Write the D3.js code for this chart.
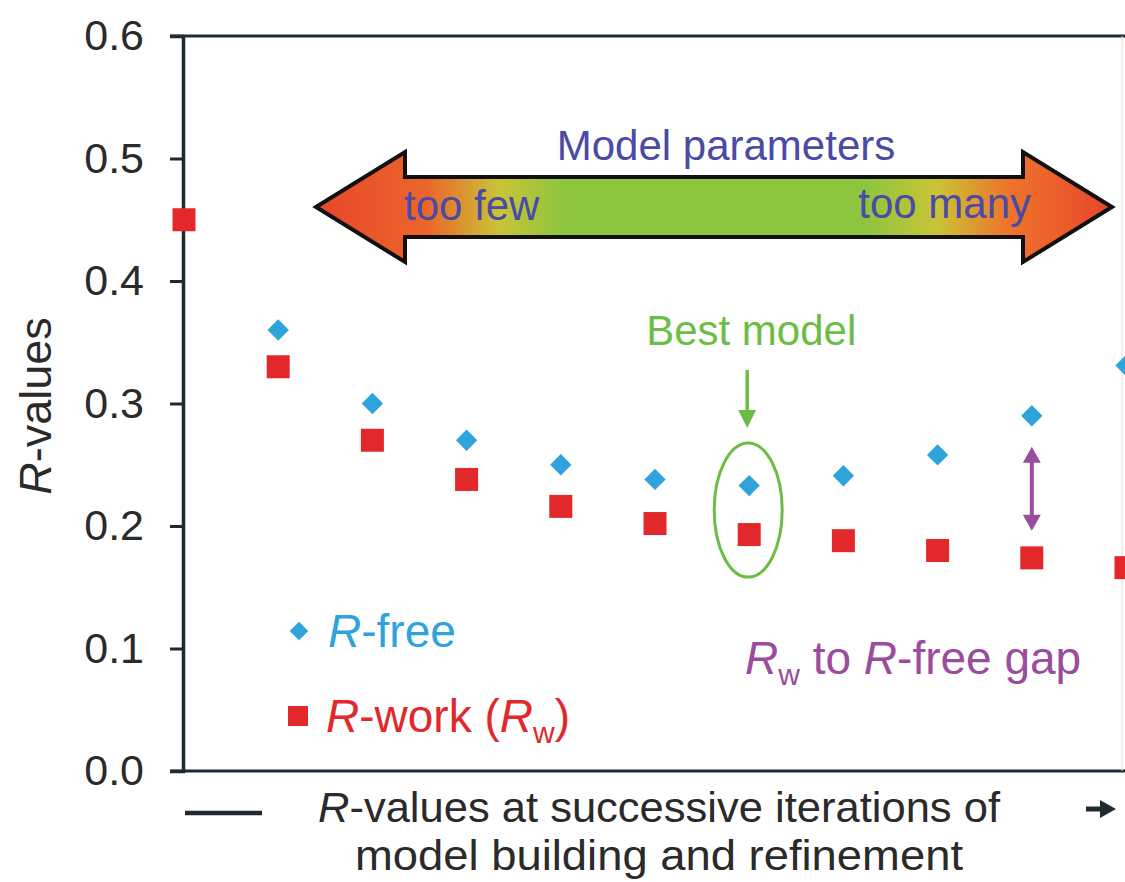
<html>
  <head>
    <meta charset="UTF-8" />
    <script src="https://cdnjs.cloudflare.com/ajax/libs/d3/7.8.5/d3.min.js"></script>
    <style>
      body { margin: 0; background: #fff; }
      text { font-family: "Liberation Sans", Arial, sans-serif; }
    </style>
  </head>
  <body>
    <svg id="chart" width="1125" height="882"></svg>
    <script>
      // iteration index along the x axis
      const iterations = [0, 1, 2, 3, 4, 5, 6, 7, 8, 9, 10];
      const rFree = [null, 0.36, 0.30, 0.27, 0.25, 0.238, 0.233, 0.241, 0.258, 0.29, 0.331];
      const rWork = [0.45, 0.33, 0.27, 0.238, 0.216, 0.202, 0.193, 0.188, 0.18, 0.174, 0.166];
      const yTicks = [0, 0.1, 0.2, 0.3, 0.4, 0.5, 0.6];
      const bestIndex = 6;
      const gapIndex = 9;

      const svg = d3.select("#chart");
      const x = d3.scaleLinear().domain([0, 10]).range([184, 1126]);
      const y = d3.scaleLinear().domain([0, 0.6]).range([771, 36]);

      const blue = "#2fa4dc", red = "#e2282b", green = "#6cbd45",
        purple = "#9a4c9f", ink = "#1f2a30", navy = "#4b4aa6", grey = "#2a2a2a";

      // gradient for the big arrow
      const grad = svg.append("defs").append("linearGradient")
        .attr("id", "arrowGrad")
        .attr("gradientUnits", "userSpaceOnUse")
        .attr("x1", 316).attr("x2", 1112).attr("y1", 0).attr("y2", 0);
      [[0, "#e8452b"], [0.14, "#ec662b"], [0.23, "#c9c436"], [0.31, "#8ec53f"],
       [0.69, "#8ec53f"], [0.78, "#c9c436"], [0.87, "#ee742b"], [1, "#e8452b"]]
        .forEach(s => grad.append("stop").attr("offset", s[0]).attr("stop-color", s[1]));

      // axis frame
      svg.append("line").attr("x1", 170).attr("x2", 1125).attr("y1", y(0.6)).attr("y2", y(0.6))
        .attr("stroke", ink).attr("stroke-width", 3);
      svg.append("line").attr("x1", 170).attr("x2", 1125).attr("y1", y(0)).attr("y2", y(0))
        .attr("stroke", ink).attr("stroke-width", 3);
      svg.append("line").attr("x1", 1122).attr("x2", 1122).attr("y1", y(0.6)).attr("y2", y(0))
        .attr("stroke", "#f1dcd6").attr("stroke-width", 1);

      const yAxis = svg.append("g")
        .attr("transform", "translate(183,0)")
        .call(d3.axisLeft(y).tickValues(yTicks).tickFormat(d3.format(".1f")).tickSize(13).tickPadding(26));
      yAxis.select(".domain").attr("stroke", ink).attr("stroke-width", 3.5);
      yAxis.selectAll(".tick line").attr("stroke", ink).attr("stroke-width", 3);
      yAxis.selectAll(".tick text")
        .attr("fill", grey)
        .style("font-family", "'Liberation Sans', Arial, sans-serif")
        .style("font-size", "43px");

      svg.append("text")
        .attr("transform", "translate(51,406) rotate(-90)")
        .attr("text-anchor", "middle")
        .attr("fill", grey)
        .style("font-size", "45px")
        .html('<tspan font-style="italic">R</tspan>-values');

      // x axis caption
      const cap = svg.append("g").attr("fill", grey).style("font-size", "42px");
      cap.append("text").attr("x", 659).attr("y", 822).attr("text-anchor", "middle")
        .attr("textLength", 682).attr("lengthAdjust", "spacingAndGlyphs")
        .html('<tspan font-style="italic">R</tspan>-values at successive iterations of');
      cap.append("text").attr("x", 659).attr("y", 870).attr("text-anchor", "middle")
        .attr("textLength", 608).attr("lengthAdjust", "spacingAndGlyphs")
        .text("model building and refinement");
      svg.append("line").attr("x1", 185).attr("x2", 262).attr("y1", 813).attr("y2", 813)
        .attr("stroke", ink).attr("stroke-width", 4.5);
      svg.append("line").attr("x1", 1086).attr("x2", 1104).attr("y1", 809).attr("y2", 809)
        .attr("stroke", ink).attr("stroke-width", 5);
      svg.append("path").attr("d", "M1100,800 L1116,809 L1100,818 Z").attr("fill", ink);

      // big double arrow
      const ay = 207, headH = 55, shaftH = 30;
      const lx = 316, rx = 1112, lb = 405, rb = 1023;
      svg.append("path")
        .attr("d", `M${lx},${ay} L${lb},${ay - headH} L${lb},${ay - shaftH} L${rb},${ay - shaftH}
          L${rb},${ay - headH} L${rx},${ay} L${rb},${ay + headH} L${rb},${ay + shaftH}
          L${lb},${ay + shaftH} L${lb},${ay + headH} Z`)
        .attr("fill", "url(#arrowGrad)")
        .attr("stroke", "#111").attr("stroke-width", 4).attr("stroke-linejoin", "miter");

      svg.append("text").attr("x", 726).attr("y", 160).attr("text-anchor", "middle")
        .attr("fill", navy).style("font-size", "42px").text("Model parameters");
      svg.append("text").attr("x", 404).attr("y", 220)
        .attr("fill", navy).style("font-size", "42px").text("too few");
      svg.append("text").attr("x", 1031).attr("y", 218).attr("text-anchor", "end")
        .attr("fill", navy).style("font-size", "42px").text("too many");

      // best model annotation
      const bx = x(bestIndex);
      svg.append("text").attr("x", bx + 2).attr("y", 345).attr("text-anchor", "middle")
        .attr("fill", green).style("font-size", "42px").text("Best model");
      svg.append("line").attr("x1", bx - 2).attr("x2", bx - 2).attr("y1", 370).attr("y2", 414)
        .attr("stroke", green).attr("stroke-width", 3.5);
      svg.append("path").attr("d", `M${bx - 11},410 L${bx - 2},428 L${bx + 7},410 Z`).attr("fill", green);
      svg.append("ellipse")
        .attr("cx", bx - 1).attr("cy", (y(rFree[bestIndex]) + y(rWork[bestIndex])) / 2)
        .attr("rx", 34).attr("ry", 67)
        .attr("fill", "none").attr("stroke", green).attr("stroke-width", 3);

      // gap annotation
      const gx = x(gapIndex);
      const gTop = y(rFree[gapIndex]) + 31, gBot = y(rWork[gapIndex]) - 27;
      svg.append("line").attr("x1", gx).attr("x2", gx).attr("y1", gTop + 10).attr("y2", gBot - 10)
        .attr("stroke", purple).attr("stroke-width", 4);
      svg.append("path").attr("d", `M${gx - 9},${gTop + 16} L${gx},${gTop} L${gx + 9},${gTop + 16} Z`).attr("fill", purple);
      svg.append("path").attr("d", `M${gx - 9},${gBot - 16} L${gx},${gBot} L${gx + 9},${gBot - 16} Z`).attr("fill", purple);
      svg.append("text").attr("x", 745).attr("y", 674)
        .attr("fill", purple).style("font-size", "46px")
        .html('<tspan font-style="italic">R</tspan><tspan font-size="30px" dy="11">w</tspan><tspan dy="-11"> to </tspan><tspan font-style="italic">R</tspan>-free gap');

      // markers
      const diamond = d3.symbol().type(d3.symbolDiamond2).size(290);
      svg.append("g").selectAll("path")
        .data(iterations.filter(i => rFree[i] != null))
        .join("path")
        .attr("transform", i => `translate(${x(i)},${y(rFree[i])})`)
        .attr("d", diamond)
        .attr("fill", blue);
      svg.append("g").selectAll("rect")
        .data(iterations)
        .join("rect")
        .attr("x", i => x(i) - 11.5).attr("y", i => y(rWork[i]) - 11.5)
        .attr("width", 23).attr("height", 23)
        .attr("fill", red);

      // legend
      svg.append("path").attr("transform", "translate(299,631)")
        .attr("d", d3.symbol().type(d3.symbolDiamond2).size(220)).attr("fill", blue);
      svg.append("text").attr("x", 328).attr("y", 647).attr("fill", blue).style("font-size", "46px")
        .html('<tspan font-style="italic">R</tspan>-free');
      svg.append("rect").attr("x", 288).attr("y", 706).attr("width", 20).attr("height", 20).attr("fill", red);
      svg.append("text").attr("x", 326).attr("y", 732).attr("fill", red).style("font-size", "46px")
        .html('<tspan font-style="italic">R</tspan>-work (<tspan font-style="italic">R</tspan><tspan font-size="30px" dy="11">w</tspan><tspan dy="-11">)</tspan>');
    </script>
  </body>
</html>
